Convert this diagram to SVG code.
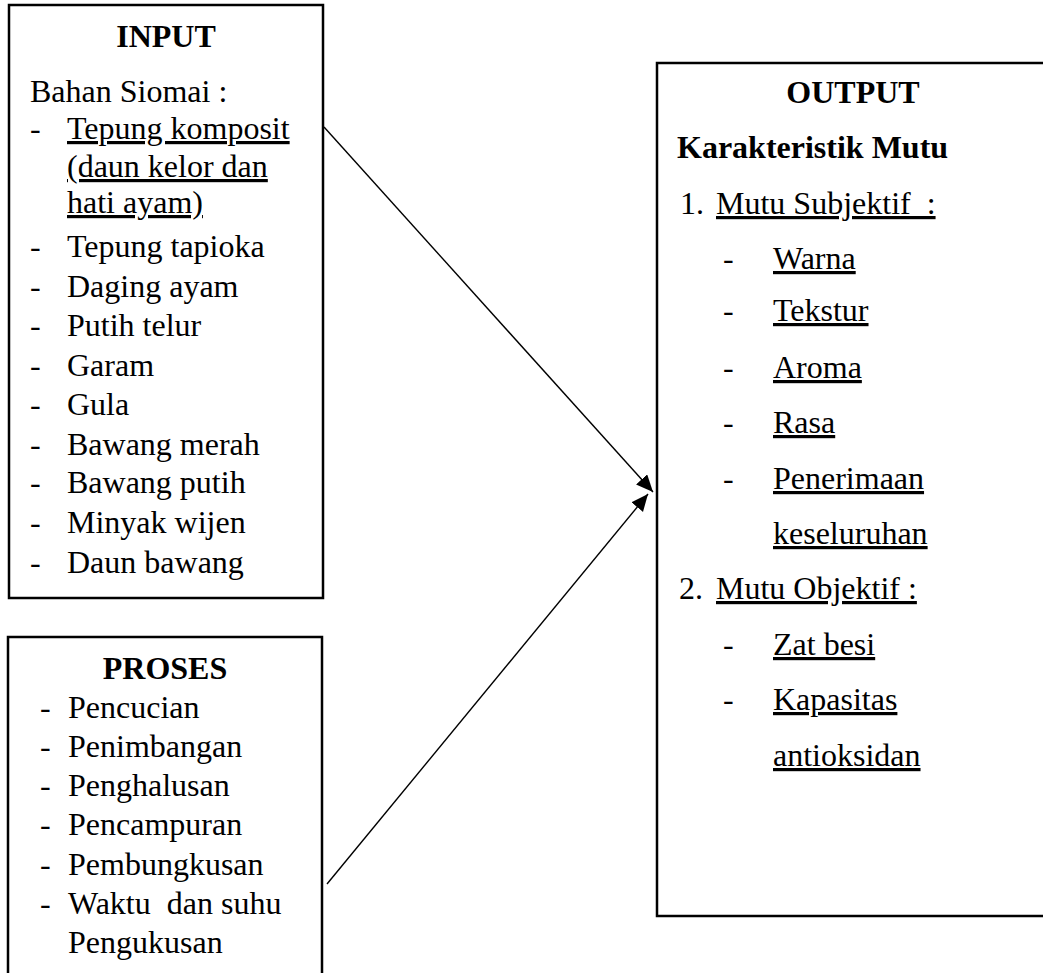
<svg xmlns="http://www.w3.org/2000/svg" width="1043" height="973" viewBox="0 0 1043 973">
<style>
  .box { fill: #fff; stroke: #000; stroke-width: 2.5; }
  text { font-family: "Liberation Serif", "Times New Roman", serif; font-size: 32px; fill: #000; white-space: pre; }
  .b { font-weight: bold; }
  .c { text-anchor: middle; }
  .u { text-decoration: underline; }
  .conn { stroke: #000; stroke-width: 1.4; fill: none; marker-end: url(#ah); }
</style>
<defs>
  <marker id="ah" markerUnits="userSpaceOnUse" markerWidth="18" markerHeight="16" refX="17" refY="7.5" orient="auto">
    <path d="M0,0 L17,7.5 L0,15 z" fill="#000"/>
  </marker>
</defs>
<rect width="1043" height="973" fill="#fff"/>

<g id="input">
  <rect class="box" x="9" y="5" width="314" height="593"/>
  <text class="b c" x="166" y="47">INPUT</text>
  <text x="30" y="102">Bahan Siomai :</text>
  <text x="30" y="139">-</text><text class="u" x="67" y="139">Tepung komposit</text>
  <text class="u" x="67" y="177">(daun kelor dan</text>
  <text class="u" x="67" y="213">hati ayam)</text>
  <text x="30" y="257">-</text><text x="67" y="257">Tepung tapioka</text>
  <text x="30" y="297">-</text><text x="67" y="297">Daging ayam</text>
  <text x="30" y="336">-</text><text x="67" y="336">Putih telur</text>
  <text x="30" y="376">-</text><text x="67" y="376">Garam</text>
  <text x="30" y="415">-</text><text x="67" y="415">Gula</text>
  <text x="30" y="455">-</text><text x="67" y="455">Bawang merah</text>
  <text x="30" y="493">-</text><text x="67" y="493">Bawang putih</text>
  <text x="30" y="533">-</text><text x="67" y="533">Minyak wijen</text>
  <text x="30" y="573">-</text><text x="67" y="573">Daun bawang</text>
</g>

<g id="proses">
  <rect class="box" x="8" y="637" width="314" height="360"/>
  <text class="b c" x="165" y="679">PROSES</text>
  <text x="40" y="718">-</text><text x="68" y="718">Pencucian</text>
  <text x="40" y="757">-</text><text x="68" y="757">Penimbangan</text>
  <text x="40" y="796">-</text><text x="68" y="796">Penghalusan</text>
  <text x="40" y="835">-</text><text x="68" y="835">Pencampuran</text>
  <text x="40" y="875">-</text><text x="68" y="875">Pembungkusan</text>
  <text x="40" y="914">-</text><text x="68" y="914">Waktu  dan suhu</text>
  <text x="68" y="953">Pengukusan</text>
</g>

<g id="output">
  <rect class="box" x="657" y="63" width="400" height="853"/>
  <text class="b c" x="853" y="103">OUTPUT</text>
  <text class="b" x="677" y="158">Karakteristik Mutu</text>
  <text x="680" y="214">1.</text><text class="u" x="716" y="214">Mutu Subjektif  :</text>
  <text x="723" y="269">-</text><text class="u" x="773" y="269">Warna</text>
  <text x="723" y="321">-</text><text class="u" x="773" y="321">Tekstur</text>
  <text x="723" y="378">-</text><text class="u" x="773" y="378">Aroma</text>
  <text x="723" y="433">-</text><text class="u" x="773" y="433">Rasa</text>
  <text x="723" y="489">-</text><text class="u" x="773" y="489">Penerimaan</text>
  <text class="u" x="773" y="544">keseluruhan</text>
  <text x="679" y="599">2.</text><text class="u" x="716" y="599">Mutu Objektif :</text>
  <text x="723" y="655">-</text><text class="u" x="773" y="655">Zat besi</text>
  <text x="723" y="710">-</text><text class="u" x="773" y="710">Kapasitas</text>
  <text class="u" x="773" y="766">antioksidan</text>
</g>

<g id="connectors">
  <line class="conn" x1="324" y1="127" x2="653" y2="492"/>
  <line class="conn" x1="327" y1="884" x2="648" y2="494"/>
</g>
</svg>
